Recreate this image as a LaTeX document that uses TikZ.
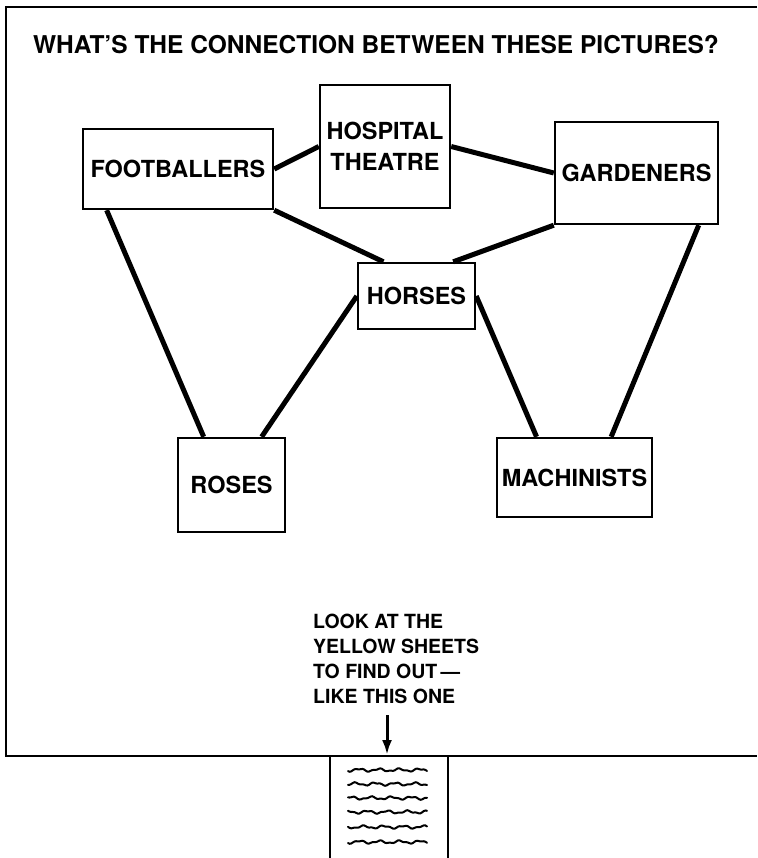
\documentclass[tikz,border=0pt]{standalone}
\usepackage{fontspec}
\setmainfont{TeX Gyre Heros}
\usetikzlibrary{arrows.meta}

\tikzset{
  box/.style={draw, line width=2.4pt, inner sep=0pt, align=center,
    font=\bfseries\fontsize{23.5}{31}\selectfont},
  link/.style={line width=5pt},
  rule/.style={line width=2.4pt}
}

\begin{document}
\begin{tikzpicture}[x=1pt, y=-1pt]
  \useasboundingbox (0,0) rectangle (757,858);

  % Frame
  \draw[rule] (757,7) -- (6,7) -- (6,756) -- (757,756);
  \node[inner sep=0pt, font=\bfseries\fontsize{24.5}{29}\selectfont] (title) at (376,45)
    {WHAT'S THE CONNECTION BETWEEN THESE PICTURES?};

  % Pictures
  \node[box, minimum width=190pt, minimum height=80pt] (foot) at (178,169) {FOOTBALLERS};
  \node[box, minimum width=130pt, minimum height=123pt] (hosp) at (385,146.5) {HOSPITAL\\THEATRE};
  \node[box, minimum width=163pt, minimum height=102pt] (gard) at (636.5,173) {GARDENERS};
  \node[box, minimum width=117pt, minimum height=66pt] (horses) at (416.5,296) {HORSES};
  \node[box, minimum width=107pt, minimum height=94pt] (roses) at (231.5,485) {ROSES};
  \node[box, minimum width=155pt, minimum height=79pt] (mach) at (574.5,477.5) {MACHINISTS};

  % Links
  \draw[link] (foot.east) -- (hosp.west);
  \draw[link] (hosp.east) -- (gard.west);
  \draw[link] (foot.south east) -- (horses.134);
  \draw[link] (gard.south west) -- (horses.43);
  \draw[link] (foot.210) -- (roses.120);
  \draw[link] (horses.west) -- (roses.58);
  \draw[link] (horses.east) -- (mach.133);
  \draw[link] (gard.-40) -- (mach.48);

  % Note
  \node[anchor=north west, inner sep=0pt, align=left,
    font=\bfseries\fontsize{19.5}{25}\selectfont] (note) at (313,614)
    {LOOK AT THE\\YELLOW SHEETS\\TO FIND OUT\,---\\LIKE THIS ONE};
  \coordinate (arrtop) at (387,715);
  \coordinate (arrtip) at (387,755);
  \draw[line width=3pt, -{Latex[length=15pt, width=10pt]}] (arrtop) -- (arrtip);

  % Yellow sheet
  \draw[rule] (330,756) -- (330,858);
  \draw[rule] (448,756) -- (448,858);
  \foreach \y [count=\i] in {770,784,798,812,827,842}
    \draw[line width=2pt, line cap=round, smooth, samples=50, domain=0:79, variable=\t]
      plot (348+\t, {\y + 1.2*sin(18*\t + 70*\i) + 0.6*sin(41*\t)});

\end{tikzpicture}
\end{document}
